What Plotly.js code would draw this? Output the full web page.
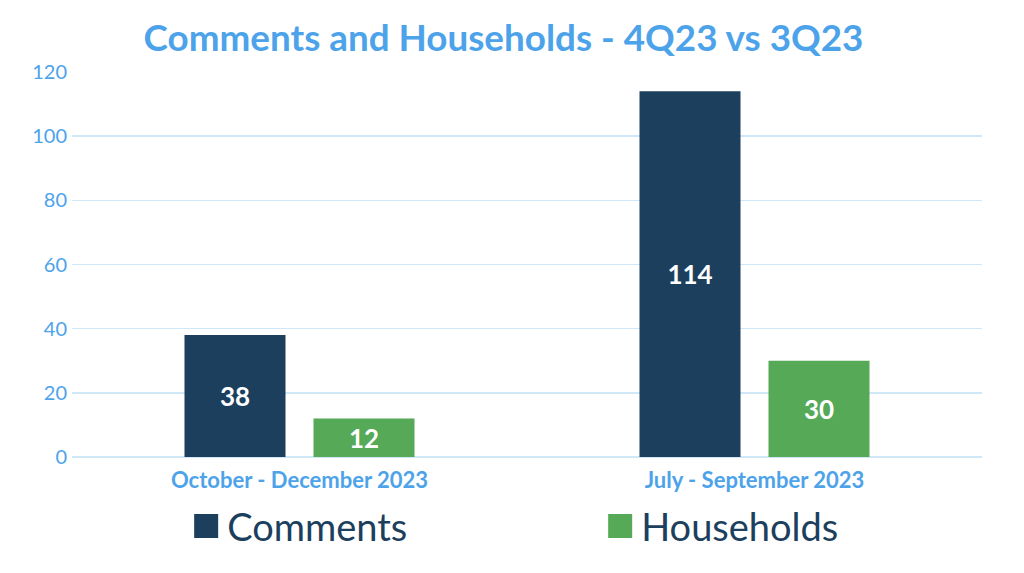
<!DOCTYPE html>
<html>
<head>
<meta charset="utf-8">
<script src="https://cdn.plot.ly/plotly-3.0.1.min.js"></script>
<style>html,body{margin:0;padding:0;background:#fff;}#chart{width:1024px;height:573px;}</style>
</head>
<body>
<div id="chart"></div>
<script>
var categories = ["October - December 2023", "July - September 2023"];
var comments = [38, 114];
var households = [12, 30];
var seriesNames = ["Comments", "Households"];
var yTicks = [0, 20, 40, 60, 80, 100, 120];

var blue = "#4DA3EA";
var navy = "#1C3F5E";
var green = "#55A957";

var traces = [
  {type: "bar", name: seriesNames[0], x: categories, y: comments,
   marker: {color: navy}, text: comments.map(String), textposition: "inside",
   insidetextanchor: "middle", constraintext: "none",
   textfont: {family: "Lato, sans-serif", size: 26, color: "#ffffff", weight: "bold"},
   hoverinfo: "none"},
  {type: "bar", name: seriesNames[1], x: categories, y: households,
   marker: {color: green}, text: households.map(String), textposition: "inside",
   insidetextanchor: "middle", constraintext: "none",
   textfont: {family: "Lato, sans-serif", size: 26, color: "#ffffff", weight: "bold"},
   hoverinfo: "none"}
];

var layout = {
  width: 1024, height: 573,
  margin: {l: 72, r: 42, t: 72, b: 116, autoexpand: false},
  paper_bgcolor: "#ffffff", plot_bgcolor: "#ffffff",
  barmode: "group", bargap: 0.433, bargroupgap: 0.217,
  title: {text: "<b>Comments and Households - 4Q23 vs 3Q23</b>",
          font: {family: "Lato, sans-serif", size: 36.8, color: blue},
          x: 0.4917, xanchor: "center", y: 0.934, yanchor: "middle"},
  xaxis: {tickfont: {family: "Lato, sans-serif", size: 22, color: blue, weight: "bold"},
          showgrid: false, showline: false, zeroline: false, ticks: "", ticklabelstandoff: 8},
  yaxis: {range: [0, 120], tickvals: yTicks, ticktext: yTicks.map(String),
          tickfont: {family: "Lato, sans-serif", size: 20, color: blue},
          gridcolor: "#D0E7F8", gridwidth: 1.5, zeroline: true, zerolinecolor: "#D0E7F8",
          zerolinewidth: 1.5, showline: false, ticks: "", ticklabelstandoff: 4},
  showlegend: true,
  legend: {orientation: "h", x: 0.5815, xanchor: "center", y: -0.18, yanchor: "middle",
           font: {family: "Lato, sans-serif", size: 38, color: navy},
           entrywidth: 369, itemwidth: 30, traceorder: "normal"}
};

Plotly.newPlot("chart", traces, layout, {displayModeBar: false, staticPlot: true}).then(function (gd) {
  var paths = gd.querySelectorAll(".legend .legendpoints path");
  paths.forEach(function (p) {
    p.setAttribute("transform", "translate(19,0) scale(2,2)");
  });
});
</script>
</body>
</html>
